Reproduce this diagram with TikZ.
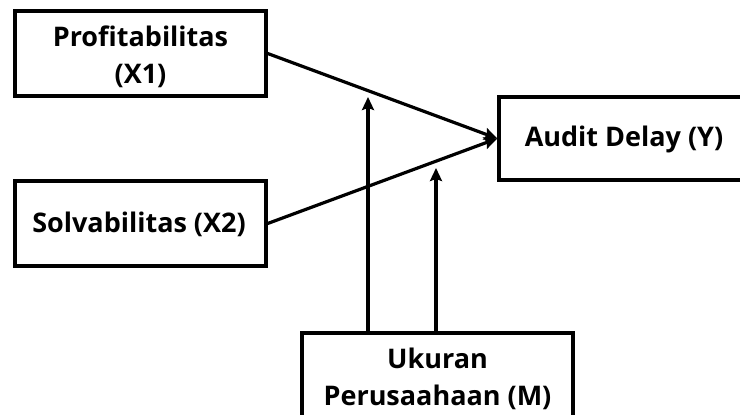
\documentclass[tikz,border=0pt]{standalone}
\usepackage{fontspec}
\setmainfont{Open Sans}
\usetikzlibrary{arrows.meta}
\begin{document}
\begin{tikzpicture}[x=1pt,y=-1pt,
  lbl/.style={font=\fontsize{27}{37}\selectfont\bfseries,align=center,inner sep=0pt},
  box/.style={draw=black,line width=3.4pt,fill=white,inner sep=0pt},
  conn/.style={line width=3.2pt,-{Stealth[length=13pt,width=12pt,inset=2pt]}}]
\useasboundingbox (0,0) rectangle (740,415);
\clip (0,0) rectangle (740,415);
\node[box,minimum width=251pt,minimum height=85pt] (x1) at (140.5,53.5) {};
\node[lbl] (x1lab) at (140.5,57) {Profitabilitas\\(X1)};
\node[box,minimum width=251pt,minimum height=85pt] (x2) at (140.5,223.5) {};
\node[lbl] (x2lab) at (139,224) {Solvabilitas (X2)};
\node[box,minimum width=246pt,minimum height=83pt] (y) at (622,138.5) {};
\node[lbl] (ylab) at (624,139) {Audit Delay (Y)};
\node[box,minimum width=271pt,minimum height=96pt] (m) at (437.5,381) {};
\node[lbl] (mlab) at (437.5,379) {Ukuran\\Perusaahaan (M)};
\coordinate (t1) at (368,97);
\coordinate (t2) at (436,168);
\draw[conn] (x1.east) -- (y.west);
\draw[conn] (x2.east) -- (y.west);
\draw[conn] (m.north -| t1) -- (t1);
\draw[conn] (m.north -| t2) -- (t2);
\end{tikzpicture}
\end{document}
